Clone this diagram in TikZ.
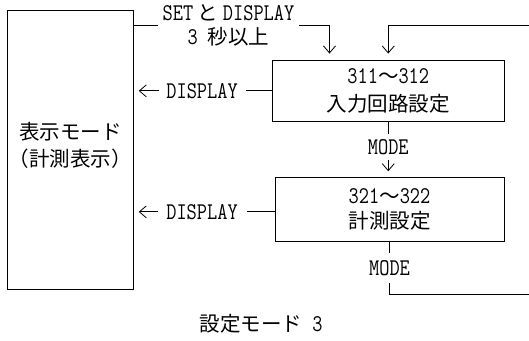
\documentclass[tikz,border=0pt]{standalone}
\usepackage{fontspec}
\usepackage{graphicx}
\setmainfont{Noto Sans CJK JP}
\usetikzlibrary{arrows.meta}
\newcommand\lat[1]{\scalebox{0.825}[1]{\fontsize{24}{27}\selectfont\ttfamily #1}}
\tikzset{
  box/.style={draw, line width=0.9pt, align=center, inner sep=0pt},
  conn/.style={line width=0.8pt},
  arr/.style={conn, -{Straight Barb[length=7pt,width=12pt]}},
  lbl/.style={fill=white, inner sep=0pt, align=center},
}
\begin{document}
\begin{tikzpicture}[x=1pt,y=-1pt,font=\fontsize{20.5}{27}\selectfont]
\useasboundingbox (0,0) rectangle (529,340);
% boxes
\node[box, minimum width=126pt, minimum height=279.5pt] (L) at (70.3,149.75)
  {表示モード\\（計測表示）\rule[-10pt]{0pt}{0pt}};
\node[box, minimum width=231.5pt, minimum height=61.7pt, font=\fontsize{20.5}{28.5}\selectfont] (B1) at (388.25,90.85)
  {\lat{311}～\lat{312}\\入力回路設定};
\node[box, minimum width=229pt, minimum height=63.3pt, font=\fontsize{20.5}{25.7}\selectfont] (B2) at (389.5,209.35)
  {\lat{321}～\lat{322}\\計測設定};
% caption
\node (cap) at (261,324) {設定モード\lat{\ 3}};
% coordinates
\coordinate (t1) at (329.5,25);
\coordinate (rt) at (529,25);
\coordinate (rb) at (529,294.3);
\coordinate (d2) at ([yshift=-2.5pt]B2.west);
% SET & DISPLAY connector
\draw[arr, shorten >=6pt] (L.east |- t1) -- node[lbl, pos=0.484, minimum width=141pt, minimum height=20pt, font=\fontsize{20.5}{24.2}\selectfont]
  {\lat{SET} と \lat{DISPLAY}\\\lat{3\ }秒以上} (t1) -- (t1 |- B1.north);
% return from right into B1
\draw[arr, shorten >=6pt] (rt) -| (B1.north);
% MODE B1 -> B2
\draw[arr, shorten >=6pt] (B1.south) -- node[lbl, pos=0.45, minimum height=26pt, minimum width=44pt] {\lat{MODE}} (B1.south |- B2.north);
% MODE from B2 to right return
\draw[conn] (B2.south) -- node[lbl, pos=0.51, minimum height=30pt, minimum width=44pt] {\lat{MODE}} (B2.south |- rb) -- (rb);
% DISPLAY back to L
\draw[arr, shorten >=5pt] (B1.west) -- node[lbl, pos=0.506, minimum width=87pt, minimum height=18pt] {\lat{DISPLAY}} (L.east |- B1.west);
\draw[arr, shorten >=5pt] (d2) -- node[lbl, pos=0.515, minimum width=89pt, minimum height=18pt] {\lat{DISPLAY}} (L.east |- d2);
\end{tikzpicture}
\end{document}
